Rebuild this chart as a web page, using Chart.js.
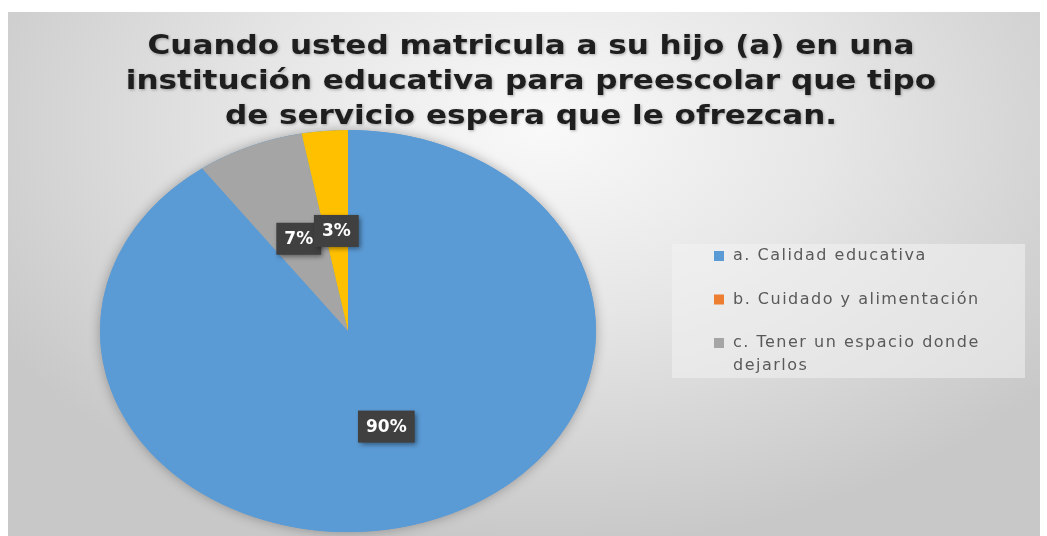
<!DOCTYPE html>
<html>
<head>
<meta charset="utf-8">
<script src="https://cdn.jsdelivr.net/npm/chart.js@4.4.0/dist/chart.umd.min.js"></script>
<style>
  html, body { margin: 0; padding: 0; background: #fff; }
  #bg {
    position: absolute; left: 8px; top: 12px; width: 1032px; height: 524px;
    background: radial-gradient(ellipse 62% 80% at 52% 22%, #f9f9f9 0%, #e6e6e6 45%, #c8c8c8 100%);
  }
  canvas { position: absolute; left: 0; top: 0; }
</style>
</head>
<body>
<div id="bg"></div>
<canvas id="pie" width="1047" height="536"></canvas>
<script>
const categories = [
  'a. Calidad educativa',
  'b. Cuidado y alimentación',
  'c. Tener un espacio donde dejarlos',
  'd. Otro'
];
const percentages = [90, 0, 7, 3];
const sliceColors = ['#5B9BD5', '#ED7D31', '#A5A5A5', '#FFC000'];
const titleLines = [
  'Cuando usted matricula a su hijo (a) en una',
  'institución educativa para preescolar que tipo',
  'de servicio espera que le ofrezcan.'
];
const legendShown = 3;

// the original pie is stretched sideways into an ellipse
const squash = 248 / 201;

const ellipsePie = {
  id: 'ellipsePie',
  beforeDatasetsDraw(chart) {
    const arc = chart.getDatasetMeta(0).data[0];
    const ctx = chart.ctx;
    ctx.save();
    // soft shadow under the whole pie
    ctx.save();
    ctx.shadowColor = 'rgba(0,0,0,0.3)';
    ctx.shadowBlur = 12;
    ctx.fillStyle = '#5B9BD5';
    ctx.beginPath();
    ctx.ellipse(arc.x, arc.y, arc.outerRadius * squash, arc.outerRadius, 0, 0, Math.PI * 2);
    ctx.fill();
    ctx.restore();
    ctx.translate(arc.x, arc.y);
    ctx.scale(squash, 1);
    ctx.translate(-arc.x, -arc.y);
  },
  afterDatasetsDraw(chart) {
    chart.ctx.restore();
  }
};

const sliceLabels = {
  id: 'sliceLabels',
  afterDatasetsDraw(chart) {
    const ctx = chart.ctx;
    const meta = chart.getDatasetMeta(0);
    const vals = chart.data.datasets[0].data;
    ctx.save();
    ctx.font = 'bold 17px "DejaVu Sans"';
    ctx.textAlign = 'center';
    ctx.textBaseline = 'middle';
    meta.data.forEach((a, i) => {
      if (!vals[i]) return;
      const mid = (a.startAngle + a.endAngle) / 2;
      const r = a.outerRadius * 0.5;
      const x = a.x + Math.cos(mid) * r * squash;
      const y = a.y + Math.sin(mid) * r;
      const txt = vals[i] + '%';
      const w = ctx.measureText(txt).width + 16;
      const h = 32;
      ctx.save();
      ctx.shadowColor = 'rgba(0,0,0,0.45)';
      ctx.shadowBlur = 5;
      ctx.shadowOffsetX = 2;
      ctx.shadowOffsetY = 2;
      ctx.fillStyle = '#404040';
      ctx.fillRect(x - w / 2, y - h / 2, w, h);
      ctx.restore();
      ctx.fillStyle = '#ffffff';
      ctx.fillText(txt, x, y + 1);
    });
    ctx.restore();
  }
};

const titleAndLegend = {
  id: 'titleAndLegend',
  afterDraw(chart) {
    const ctx = chart.ctx;
    ctx.save();
    // title, a little wider than the font draws it
    ctx.font = 'bold 27px "DejaVu Sans"';
    ctx.textAlign = 'center';
    ctx.textBaseline = 'middle';
    ctx.fillStyle = '#1e1e1e';
    ctx.shadowColor = 'rgba(0,0,0,0.3)';
    ctx.shadowBlur = 3;
    ctx.shadowOffsetX = 1;
    ctx.shadowOffsetY = 1;
    const sx = 1.15;
    titleLines.forEach((t, i) => {
      ctx.save();
      ctx.translate(531, 47 + i * 35);
      ctx.scale(sx, 1);
      ctx.fillText(t, 0, 0);
      ctx.restore();
    });
    ctx.shadowColor = 'transparent';

    // legend
    ctx.fillStyle = 'rgba(242,242,242,0.55)';
    ctx.fillRect(672, 244, 353, 134);
    ctx.font = '16px "DejaVu Sans"';
    ctx.letterSpacing = '1.5px';
    ctx.textAlign = 'left';
    let y = 256;
    for (let i = 0; i < legendShown; i++) {
      ctx.fillStyle = sliceColors[i];
      ctx.fillRect(714, y - 5, 10, 10);
      ctx.fillStyle = '#595959';
      const words = chart.data.labels[i].split(' ');
      const lines = [];
      let cur = '';
      words.forEach(wd => {
        const test = cur ? cur + ' ' + wd : wd;
        if (ctx.measureText(test).width > 275 && cur) { lines.push(cur); cur = wd; }
        else cur = test;
      });
      lines.push(cur);
      lines.forEach((ln, j) => ctx.fillText(ln, 733, y + j * 23));
      y += 43.5;
    }
    ctx.restore();
  }
};

new Chart(document.getElementById('pie'), {
  type: 'pie',
  data: {
    labels: categories,
    datasets: [{
      data: percentages,
      backgroundColor: sliceColors,
      borderWidth: 0,
      clip: false
    }]
  },
  options: {
    responsive: false,
    animation: false,
    devicePixelRatio: 1,
    layout: { padding: { left: 147, right: 498, top: 130, bottom: 4 } },
    plugins: {
      legend: { display: false },
      title: { display: false },
      tooltip: { enabled: false }
    }
  },
  plugins: [ellipsePie, sliceLabels, titleAndLegend]
});
</script>
</body>
</html>
